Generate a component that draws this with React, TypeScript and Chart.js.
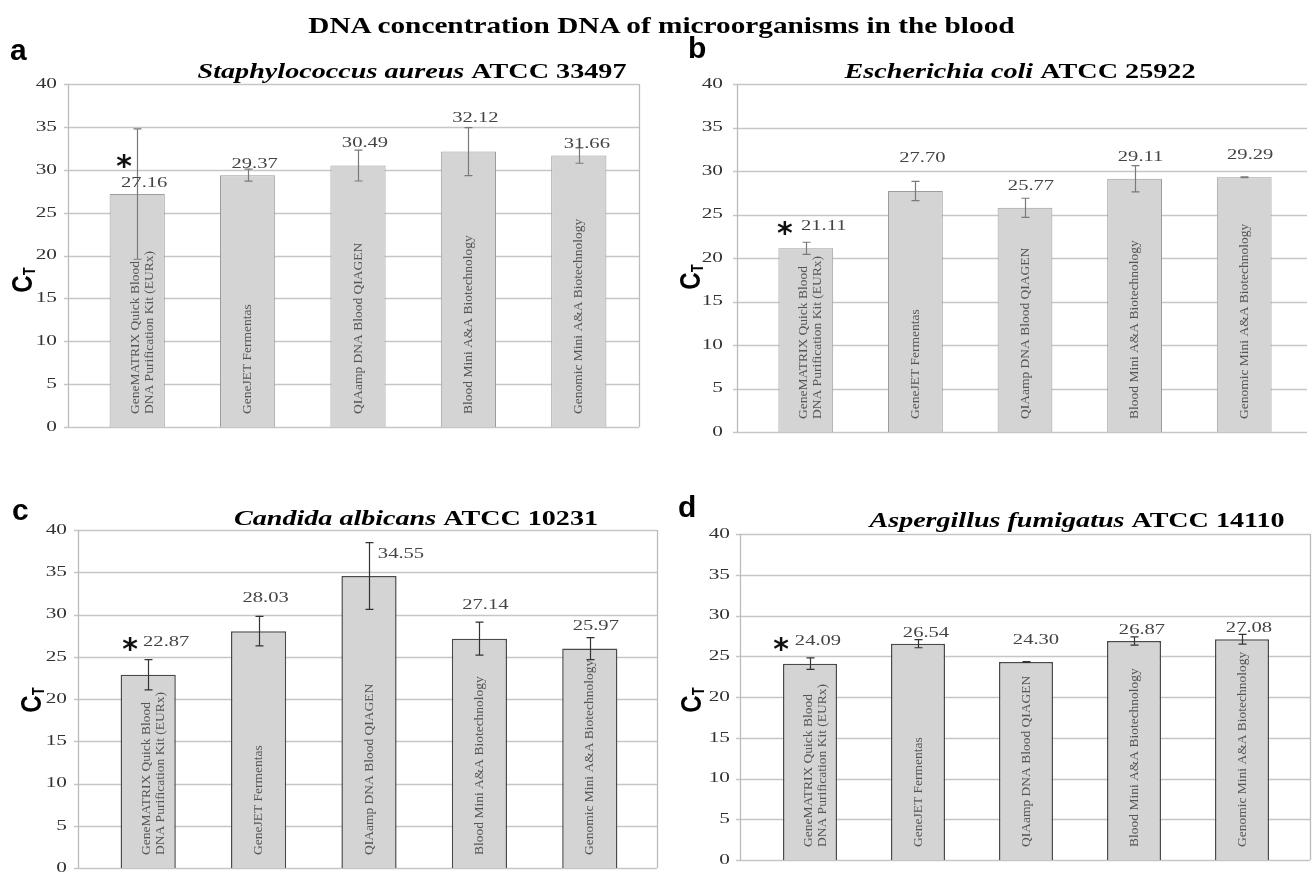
import React, { useEffect, useRef } from "react";
import { Chart, registerables } from "chart.js";

Chart.register(...registerables);

// ---------------- data ----------------
const categories: string[][] = [
  ["GeneMATRIX Quick Blood", "DNA Purification Kit (EURx)"],
  ["GeneJET Fermentas"],
  ["QIAamp DNA Blood QIAGEN"],
  ["Blood Mini A&A Biotechnology"],
  ["Genomic Mini A&A Biotechnology"],
];
const yTickValues = [0, 5, 10, 15, 20, 25, 30, 35, 40];
const mainTitle = "DNA concentration DNA of microorganisms in the blood";
const axisTitleMain = "C";
const axisTitleSub = "T";

const valuesA = [27.16, 29.37, 30.49, 32.12, 31.66];
const errorsA = [7.6, 0.7, 1.8, 2.8, 0.9];
const valuesB = [21.11, 27.7, 25.77, 29.11, 29.29];
const errorsB = [0.7, 1.1, 1.1, 1.5, 0.05];
const valuesC = [22.87, 28.03, 34.55, 27.14, 25.97];
const errorsC = [1.8, 1.75, 3.95, 1.95, 1.3];
const valuesD = [24.09, 26.54, 24.3, 26.87, 27.08];
const errorsD = [0.7, 0.5, 0.05, 0.5, 0.6];
const significant = [true, false, false, false, false];

const speciesA = "Staphylococcus aureus";
const strainA = "ATCC 33497";
const speciesB = "Escherichia coli";
const strainB = "ATCC 25922";
const speciesC = "Candida albicans";
const strainC = "ATCC 10231";
const speciesD = "Aspergillus fumigatus";
const strainD = "ATCC 14110";

// ---------------- layout (not data) ----------------
type Panel = {
  key: string;
  letter: string;
  species: string;
  strain: string;
  values: number[];
  errors: number[];
  left: number;
  top: number;
  width: number;
  height: number;
  axisX: number;
  tickRight: number;
  catLeft: number;
  catRight: number;
  gridRight: number;
  borderRight: boolean;
  plotTop: number;
  plotBottom: number;
  letterX: number;
  letterY: number;
  titleX: number;
  titleY: number;
  titleW: number;
  ctX: number;
  ctY: number;
  lift: number[];
  shift: number[];
  starDx: number;
  starDy: number;
  barBorder: string;
  barBorderWidth: number;
  errColor: string;
};

const panels: Panel[] = [
  {
    key: "a", letter: "a", species: speciesA, strain: strainA, values: valuesA, errors: errorsA,
    left: 0, top: 0, width: 660, height: 480,
    axisX: 68, tickRight: 57, catLeft: 82, catRight: 634, gridRight: 639, borderRight: true,
    plotTop: 84, plotBottom: 427,
    letterX: 10, letterY: 60, titleX: 412, titleY: 78, titleW: 429, ctX: 24, ctY: 280,
    lift: [1, 1, 2, 3, 1], shift: [7, 7, 7, 7, 8], starDx: -20, starDy: -24,
    barBorder: "#9c9c9c", barBorderWidth: 1, errColor: "#7a7a7a",
  },
  {
    key: "b", letter: "b", species: speciesB, strain: strainB, values: valuesB, errors: errorsB,
    left: 660, top: 0, width: 653, height: 480,
    axisX: 77, tickRight: 63, catLeft: 91, catRight: 639, gridRight: 647, borderRight: false,
    plotTop: 84, plotBottom: 432,
    letterX: 28, letterY: 58, titleX: 360, titleY: 78, titleW: 351, ctX: 32, ctY: 277,
    lift: [2, 3, 2, 2, 2], shift: [18, 7, 6, 6, 6], starDx: -39, starDy: 0,
    barBorder: "#9c9c9c", barBorderWidth: 1, errColor: "#7a7a7a",
  },
  {
    key: "c", letter: "c", species: speciesC, strain: strainC, values: valuesC, errors: errorsC,
    left: 0, top: 440, width: 660, height: 480,
    axisX: 78, tickRight: 67, catLeft: 93, catRight: 645, gridRight: 657, borderRight: true,
    plotTop: 90, plotBottom: 428,
    letterX: 12, letterY: 80, titleX: 416, titleY: 85, titleW: 364, ctX: 33, ctY: 260,
    lift: [3, 3, 2, 3, 2], shift: [18, 7, 32, 6, 6], starDx: -36, starDy: 0,
    barBorder: "#4a4a4a", barBorderWidth: 1.5, errColor: "#333333",
  },
  {
    key: "d", letter: "d", species: speciesD, strain: strainD, values: valuesD, errors: errorsD,
    left: 660, top: 440, width: 653, height: 480,
    axisX: 80, tickRight: 70, catLeft: 96, catRight: 636, gridRight: 650, borderRight: true,
    plotTop: 94, plotBottom: 420,
    letterX: 18, letterY: 77, titleX: 417, titleY: 87, titleW: 415, ctX: 33, ctY: 260,
    lift: [2, 1, 2, 1, 1], shift: [8, 8, 10, 8, 7], starDx: -37, starDy: 0,
    barBorder: "#4a4a4a", barBorderWidth: 1.5, errColor: "#333333",
  },
];

const SERIF = "'Liberation Serif', 'Times New Roman', serif";
const SANS = "'Liberation Sans', Arial, sans-serif";
const TEXT_STRETCH = 1.42;

function stretchedText(
  ctx: CanvasRenderingContext2D,
  text: string,
  x: number,
  y: number,
  sx: number,
  align: CanvasTextAlign
) {
  ctx.save();
  ctx.translate(x, y);
  ctx.scale(sx, 1);
  ctx.textAlign = align;
  ctx.fillText(text, 0, 0);
  ctx.restore();
}

function makePlugin(p: Panel) {
  return {
    id: "decor_" + p.key,
    beforeDatasetsDraw(chart: any) {
      const ctx: CanvasRenderingContext2D = chart.ctx;
      const y = chart.scales.y;
      ctx.save();
      // grid lines
      ctx.strokeStyle = "#c6c6c6";
      ctx.lineWidth = 1.3;
      for (const t of yTickValues) {
        const py = Math.round(y.getPixelForValue(t)) + 0.5;
        ctx.beginPath();
        ctx.moveTo(p.axisX - 4, py);
        ctx.lineTo(p.gridRight, py);
        ctx.stroke();
      }
      ctx.strokeStyle = "#bbbbbb";
      ctx.beginPath();
      ctx.moveTo(p.axisX + 0.5, y.getPixelForValue(40));
      ctx.lineTo(p.axisX + 0.5, y.getPixelForValue(0));
      if (p.borderRight) {
        ctx.moveTo(p.gridRight + 0.5, y.getPixelForValue(40));
        ctx.lineTo(p.gridRight + 0.5, y.getPixelForValue(0));
      }
      ctx.stroke();
      // tick labels, placed by the y scale
      ctx.fillStyle = "#333";
      ctx.font = `15px ${SERIF}`;
      ctx.textBaseline = "middle";
      y.ticks.forEach((t: any) => {
        stretchedText(ctx, String(t.value), p.tickRight, y.getPixelForValue(t.value), TEXT_STRETCH, "right");
      });
      ctx.restore();
    },
    afterDatasetsDraw(chart: any) {
      const ctx: CanvasRenderingContext2D = chart.ctx;
      const x = chart.scales.x;
      const y = chart.scales.y;
      ctx.save();

      // category labels inside bars (rotated)
      ctx.fillStyle = "#555";
      ctx.font = `13.5px ${SERIF}`;
      ctx.textAlign = "left";
      ctx.textBaseline = "middle";
      categories.forEach((lines, i) => {
        const cx = x.getPixelForValue(i);
        const base = y.getPixelForValue(0) - 13;
        const n = lines.length;
        lines.forEach((ln, j) => {
          const off = (j - (n - 1) / 2) * 14 + (n > 1 ? 5 : 0);
          ctx.save();
          ctx.translate(cx + off, base);
          ctx.rotate(-Math.PI / 2);
          ctx.fillText(ln, 0, 0);
          ctx.restore();
        });
      });

      // error bars
      ctx.strokeStyle = p.errColor;
      ctx.lineWidth = 1.2;
      p.values.forEach((v, i) => {
        const cx = Math.round(x.getPixelForValue(i)) + 0.5;
        const yt = y.getPixelForValue(v + p.errors[i]);
        const yb = y.getPixelForValue(v - p.errors[i]);
        ctx.beginPath();
        ctx.moveTo(cx, yt);
        ctx.lineTo(cx, yb);
        ctx.moveTo(cx - 4, yt);
        ctx.lineTo(cx + 4, yt);
        ctx.moveTo(cx - 4, yb);
        ctx.lineTo(cx + 4, yb);
        ctx.stroke();
      });

      // value labels
      ctx.font = `14.5px ${SERIF}`;
      ctx.fillStyle = "#444";
      ctx.textBaseline = "middle";
      p.values.forEach((v, i) => {
        const cx = x.getPixelForValue(i) + p.shift[i];
        const cy = y.getPixelForValue(v) - 11 * p.lift[i];
        stretchedText(ctx, v.toFixed(2), cx, cy, TEXT_STRETCH, "center");
        if (significant[i]) {
          ctx.save();
          ctx.font = `bold 30px 'DejaVu Sans', sans-serif`;
          ctx.fillStyle = "#111";
          ctx.textAlign = "center";
          ctx.textBaseline = "alphabetic";
          ctx.fillText("*", cx + p.starDx, cy + p.starDy + 17);
          ctx.restore();
        }
      });

      // panel title (stretched to its width in the figure)
      ctx.fillStyle = "#000";
      ctx.textBaseline = "alphabetic";
      ctx.textAlign = "left";
      const f1 = `italic bold 20px ${SERIF}`;
      const f2 = `bold 20px ${SERIF}`;
      ctx.font = f1;
      const w1 = ctx.measureText(p.species + " ").width;
      ctx.font = f2;
      const w2 = ctx.measureText(p.strain).width;
      const k = p.titleW / (w1 + w2);
      ctx.save();
      ctx.translate(p.titleX - p.titleW / 2, p.titleY);
      ctx.scale(k, 1);
      ctx.font = f1;
      ctx.fillText(p.species + " ", 0, 0);
      ctx.font = f2;
      ctx.fillText(p.strain, w1, 0);
      ctx.restore();

      // panel letter
      ctx.font = `bold 30px ${SANS}`;
      ctx.fillText(p.letter, p.letterX, p.letterY);

      // C_T axis title
      ctx.save();
      ctx.translate(p.ctX, p.ctY);
      ctx.scale(1.2, 1);
      ctx.rotate(-Math.PI / 2);
      ctx.font = `bold 24px ${SANS}`;
      const wc = ctx.measureText(axisTitleMain).width;
      ctx.font = `bold 13px ${SANS}`;
      const wt = ctx.measureText(axisTitleSub).width;
      const start = -(wc + wt) / 2;
      ctx.textBaseline = "middle";
      ctx.font = `bold 24px ${SANS}`;
      ctx.fillText(axisTitleMain, start, 0);
      ctx.font = `bold 13px ${SANS}`;
      ctx.fillText(axisTitleSub, start + wc, 6);
      ctx.restore();

      ctx.restore();
    },
  };
}

function PanelChart({ p }: { p: Panel }) {
  const ref = useRef<HTMLCanvasElement | null>(null);
  useEffect(() => {
    if (!ref.current) return;
    const chart = new Chart(ref.current, {
      type: "bar",
      data: {
        labels: categories.map((c) => c.join(" ")),
        datasets: [
          {
            data: p.values,
            backgroundColor: "#d4d4d4",
            borderColor: p.barBorder,
            borderWidth: p.barBorderWidth,
            barPercentage: 0.5,
            categoryPercentage: 1,
          },
        ],
      },
      options: {
        animation: false,
        responsive: false,
        maintainAspectRatio: false,
        events: [],
        layout: {
          padding: {
            left: 0,
            right: p.width - p.catRight,
            top: p.plotTop,
            bottom: p.height - p.plotBottom,
          },
        },
        plugins: {
          legend: { display: false },
          tooltip: { enabled: false },
          title: { display: false },
        },
        scales: {
          x: { display: false, offset: true, grid: { display: false } },
          y: {
            min: 0,
            max: 40,
            ticks: { stepSize: 5, display: false },
            grid: { display: false, drawTicks: false },
            border: { display: false },
            afterFit: (s: any) => {
              s.width = p.catLeft;
            },
          },
        },
      } as any,
      plugins: [makePlugin(p)],
    });
    // make the plot area land exactly where the layout asks
    for (let k = 0; k < 4; k++) {
      const ca = chart.chartArea;
      const db = Math.round(ca.bottom - p.plotBottom);
      const dt = Math.round(ca.top - p.plotTop);
      const dl = Math.round(ca.left - p.catLeft);
      const dr = Math.round(ca.right - p.catRight);
      if (!db && !dt && !dl && !dr) break;
      const pad = (chart.options as any).layout.padding;
      pad.bottom += db;
      pad.top -= dt;
      pad.left = Math.max(0, pad.left - dl);
      pad.right += dr;
      chart.update();
    }
    return () => chart.destroy();
  }, [p]);
  return (
    <canvas
      ref={ref}
      width={p.width}
      height={p.height}
      style={{ position: "absolute", left: p.left, top: p.top, width: p.width, height: p.height }}
    />
  );
}

export default function App() {
  return (
    <div
      style={{
        position: "fixed",
        left: 0,
        top: 0,
        width: 1313,
        height: 876,
        background: "#fff",
        overflow: "hidden",
      }}
    >
      {panels.map((p) => (
        <PanelChart key={p.key} p={p} />
      ))}
      <div
        style={{
          position: "absolute",
          left: 0,
          top: 13,
          width: 1322,
          textAlign: "center",
          zIndex: 2,
        }}
      >
        <span
          style={{
            display: "inline-block",
            fontFamily: SERIF,
            fontWeight: "bold",
            fontSize: 24,
            lineHeight: "24px",
            color: "#000",
            transform: "scaleX(1.22)",
            transformOrigin: "50% 50%",
            whiteSpace: "nowrap",
          }}
        >
          {mainTitle}
        </span>
      </div>
    </div>
  );
}
